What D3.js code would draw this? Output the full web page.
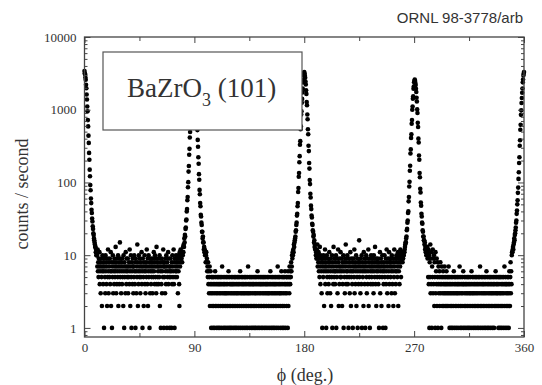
<!DOCTYPE html>
<html><head><meta charset="utf-8">
<script src="https://cdn.jsdelivr.net/npm/d3@7"></script>
<style>body{margin:0;background:#fff}</style>
</head><body><svg id="c" width="542" height="385"></svg>
<script>
// ---- data: counts / second vs phi (deg), 0.25 deg step ----
const phiStep = 0.25;
const peak0Center = 0,     peak0FirstOffset = 0;
const peak90Center = 89.5, peak90FirstOffset = -10;
const peak180Center = 180, peak180FirstOffset = -10;
const peak270Center = 270.5, peak270FirstOffset = -10;
const peak360Center = 360, peak360FirstOffset = -10;

const peak0Counts = [3400,3180,3060,2780,2580,2200,1970,1620,1380,1110,950,720,590,440,350,255,205,150,122,92,
 78,60,52,42,38,32,29,25,23,20,19,17,16,15,14,13,13,11,12,10,10];
const peak90Counts = [9,10,8,11,10,13,11,14,13,17,15,19,18,23,24,30,31,40,43,57,
 63,86,101,141,168,240,290,415,495,670,790,1030,1170,1490,1680,2020,2210,2520,2660,2880,
 3000,
 2820,2730,2440,2290,1940,1740,1420,1230,975,830,630,525,385,310,222,181,130,109,79,69,
 52,47,36,34,28,26,21,21,17,18,15,15,12,13,11,12,10,11,8,10];
const peak180Counts = [10,9,11,10,12,11,14,13,15,16,17,18,21,22,26,28,35,37,47,52,
 74,84,120,135,190,230,330,370,540,590,860,950,1250,1410,1730,1950,2380,2560,2940,3120,
 3300,
 3150,2940,2760,2440,2230,1850,1650,1280,1150,860,740,540,460,320,270,185,155,108,95,70,
 62,48,43,35,33,27,26,22,21,18,19,15,16,13,14,12,12,10,11,9];
const peak270Counts = [8,9,9,10,10,11,11,12,13,14,15,15,17,18,22,23,28,30,38,40,
 55,63,88,102,145,170,250,285,410,460,640,720,1000,1110,1420,1530,1950,2090,2380,2480,
 2600,
 2490,2330,2180,1940,1750,1460,1300,1010,900,660,580,400,355,235,205,135,118,82,73,53,
 48,37,34,28,27,22,21,18,18,16,16,14,15,12,13,11,12,10,11,10];
const peak360Counts = [10,11,11,12,13,12,14,15,17,16,19,20,22,24,28,30,37,41,50,57,
 72,85,112,138,185,222,320,380,530,620,850,980,1240,1450,1710,1960,2380,2610,2950,3120,3300];

const bgAStart = 10.25;
const bgACounts = [
 10,7,12,6,8,5,9,7,11,4,6,8,3,7,9,5,2,6,10,7,
 4,8,6,1,9,7,5,3,10,6,8,4,7,2,9,5,12,6,3,8,
 7,5,9,4,6,11,2,8,6,1,7,5,10,3,8,6,4,9,7,5,
 6,13,8,3,7,4,9,6,5,10,2,7,8,4,6,15,5,9,7,3,
 8,6,4,9,5,7,2,10,6,1,8,5,7,3,11,6,4,9,7,5,
 6,9,3,7,5,8,4,12,6,2,7,10,5,1,8,6,4,9,7,3,
 7,5,10,6,4,8,1,9,6,3,7,5,14,8,2,6,4,10,7,5,
 9,6,3,8,5,7,11,4,6,1,9,7,5,2,8,6,10,4,7,3,
 6,8,5,12,7,4,9,2,6,10,5,7,1,8,3,6,9,4,7,5,
 8,6,3,9,7,5,11,6,8,4,10,7,5,9,3,13,4,8,7,5,
 6,9,4,7,5,10,2,8,6,1,7,4,9,3,6,8,5,12,7,1,
 8,5,7,3,9,6,4,10,7,1,8,5,6,11,4,9,7,5,1,6,
 7,9,5,6,1,8,4,10,7,5,6,12,4,8,1,9,5,7,6,10,
 6,8,5,9,7,3,10,6,8,4,2,11,7,9,12,8,10];
const bgBStart = 99.75;
const bgBCounts = [
 11,8,9,6,7,5,8,4,6,3,5,7,2,4,6,3,1,5,4,2,
 3,5,1,4,2,5,3,1,4,6,2,5,3,4,1,2,5,3,4,1,
 5,2,4,3,1,5,4,2,3,5,1,4,7,2,3,5,4,1,2,3,
 4,5,1,3,2,4,5,3,1,2,4,5,3,6,1,2,5,4,3,1,
 2,4,5,3,1,4,2,5,3,4,1,2,5,3,4,1,5,2,3,4,
 1,5,3,2,4,5,1,3,4,2,5,6,1,3,4,2,5,3,1,4,
 5,2,3,4,1,5,3,2,4,5,1,3,2,4,5,1,3,7,2,4,
 3,5,1,4,2,3,5,4,1,2,5,3,4,1,2,4,5,3,1,2,
 4,5,3,1,2,4,5,3,6,1,4,2,5,3,1,4,2,5,3,4,
 1,2,5,4,3,1,5,2,4,3,5,1,2,4,3,5,1,4,2,3,
 5,4,1,3,2,5,4,3,1,2,6,4,5,3,1,2,4,5,3,1,
 2,4,5,3,1,4,2,5,3,4,1,2,5,3,7,4,1,5,2,3,
 4,5,3,1,2,4,6,3,5,1,2,4,5,3,1,2,5,4,6,3,
 1,4,5,2,3,5,4,1,6,2,5,4,3,7,5,4,6,5,8,6,
 7];
const bgCStart = 190.25;
const bgCCounts = [
 12,9,14,7,10,8,11,6,9,5,13,7,4,10,8,6,3,9,1,7,
 8,5,10,6,2,9,7,12,4,8,6,1,7,10,5,3,9,6,8,4,
 7,11,5,8,3,6,9,2,7,5,10,1,8,6,4,13,7,5,9,6,
 4,8,6,10,1,7,5,9,3,6,12,8,2,7,4,9,6,5,11,7,
 5,9,6,2,8,4,7,10,1,6,8,5,3,9,7,14,4,6,8,5,
 10,6,4,7,1,9,5,8,3,6,11,7,2,5,9,6,4,8,1,7,
 6,9,5,12,3,7,8,4,6,10,2,7,5,9,1,6,8,4,7,16,
 5,8,6,3,9,7,4,10,1,6,8,5,7,2,11,6,9,4,7,1,
 8,6,10,5,3,7,9,4,6,12,2,8,5,7,1,9,6,4,10,7,
 5,8,6,9,4,7,3,10,6,8,5,13,7,4,9,2,6,8,5,7,
 9,6,4,8,1,7,5,11,3,6,9,7,2,8,5,10,6,1,7,4,
 8,6,10,5,7,1,9,4,6,12,8,3,7,5,9,2,6,11,4,8,
 7,9,5,8,6,3,10,7,4,9,6,2,8,5,12,7,3,9,6,4,
 8,10,6,9,5,7,11,2,8,6,10,4,9,7,12,8,5,10,9,11,
 9];
const bgDStart = 280.75;
const bgDCounts = [
 13,9,11,5,12,4,10,1,8,5,14,3,9,4,11,1,7,5,12,3,
 9,4,10,2,8,5,1,11,3,6,4,9,2,5,8,1,4,7,3,5,
 6,2,4,8,3,5,1,4,7,2,5,3,6,4,2,5,3,7,4,2,
 5,3,4,6,2,5,3,4,2,5,7,3,4,1,5,2,3,4,1,5,
 2,3,4,1,5,2,3,6,4,1,5,3,2,4,5,1,3,2,4,5,
 3,1,4,2,5,3,7,4,1,2,5,3,4,1,2,5,3,4,6,1,
 4,2,5,3,1,4,2,5,3,4,1,2,5,3,4,1,5,2,3,4,
 1,5,3,2,4,6,1,3,5,2,4,3,1,5,2,4,3,1,5,2,
 4,3,5,1,2,4,3,5,1,2,4,5,3,7,1,2,4,5,3,2,
 1,4,5,3,2,4,1,5,3,2,4,1,5,3,6,2,4,1,5,3,
 2,4,1,5,3,2,4,5,1,3,2,4,5,3,1,2,4,5,3,1,
 4,2,5,3,6,2,4,5,3,2,4,3,5,1,2,4,5,3,1,2,
 5,3,4,1,2,5,3,4,2,1,5,3,4,7,2,1,5,4,3,2,
 4,1,5,3,2,4,5,1,3,6,4,2,5,8,3,6,4];

const xMajorTicks = [0, 90, 180, 270, 360];
const xMinorTicks = [45, 135, 225, 315];
const yMajorTicks = [1, 10, 100, 1000, 10000];
const yMinorTicks = [0.8,0.9,2,3,4,5,6,7,8,9,20,30,40,50,60,70,80,90,200,300,400,500,600,700,800,900,2000,3000,4000,5000,6000,7000,8000,9000];
const labelText = {main: "BaZrO", sub: "3", rest: " (101)"};
const figureId = "ORNL 98-3778/arb";

// ---- assemble points ----
const segments = [
  {start: peak0Center + peak0FirstOffset, counts: peak0Counts},
  {start: bgAStart, counts: bgACounts},
  {start: peak90Center + peak90FirstOffset, counts: peak90Counts},
  {start: bgBStart, counts: bgBCounts},
  {start: peak180Center + peak180FirstOffset, counts: peak180Counts},
  {start: bgCStart, counts: bgCCounts},
  {start: peak270Center + peak270FirstOffset, counts: peak270Counts},
  {start: bgDStart, counts: bgDCounts},
  {start: peak360Center + peak360FirstOffset, counts: peak360Counts}
];
const points = [];
segments.forEach(s => s.counts.forEach((c, i) => points.push({phi: s.start + i * phiStep, c})));

// ---- drawing ----
const svg = d3.select('#c');
const L = 84.5, R = 524, T = 37, B = 337;
const x = d3.scaleLinear().domain([0, 360]).range([L, R]);
const y = d3.scaleLog().domain([0.75, 10000]).range([B, T]);
const serif = "'Liberation Serif','Times New Roman',serif";
const ink = "#333";

svg.append('g').selectAll('circle').data(points).join('circle')
  .attr('cx', d => x(d.phi)).attr('cy', d => y(d.c)).attr('r', 2.3).attr('fill', '#000');

function styleAxis(g, withText) {
  g.select('.domain').remove();
  g.selectAll('line').attr('stroke', '#444').attr('stroke-width', 1);
  g.selectAll('text').attr('font-family', serif).attr('font-size', 13).attr('fill', ink);
  if (!withText) g.selectAll('text').remove();
}
svg.append('g').attr('transform', `translate(0,${B})`)
  .call(d3.axisBottom(x).tickValues(xMajorTicks).tickSize(-6).tickPadding(6).tickFormat(d3.format('d')))
  .call(g => styleAxis(g, true));
svg.append('g').attr('transform', `translate(0,${B})`)
  .call(d3.axisBottom(x).tickValues(xMinorTicks).tickSize(-4)).call(g => styleAxis(g, false));
svg.append('g').attr('transform', `translate(0,${T})`)
  .call(d3.axisTop(x).tickValues(xMajorTicks).tickSize(-6)).call(g => styleAxis(g, false));
svg.append('g').attr('transform', `translate(0,${T})`)
  .call(d3.axisTop(x).tickValues(xMinorTicks).tickSize(-4)).call(g => styleAxis(g, false));
svg.append('g').attr('transform', `translate(${L},0)`)
  .call(d3.axisLeft(y).tickValues(yMajorTicks).tickSize(-6).tickPadding(8).tickFormat(d3.format('d')))
  .call(g => styleAxis(g, true));
svg.append('g').attr('transform', `translate(${L},0)`)
  .call(d3.axisLeft(y).tickValues(yMinorTicks).tickSize(-3)).call(g => styleAxis(g, false));
svg.append('g').attr('transform', `translate(${R},0)`)
  .call(d3.axisRight(y).tickValues(yMajorTicks).tickSize(-6)).call(g => styleAxis(g, false));
svg.append('g').attr('transform', `translate(${R},0)`)
  .call(d3.axisRight(y).tickValues(yMinorTicks).tickSize(-3)).call(g => styleAxis(g, false));

svg.append('rect').attr('x', L).attr('y', T).attr('width', R - L).attr('height', B - T)
  .attr('fill', 'none').attr('stroke', '#444').attr('stroke-width', 1.3);

svg.append('rect').attr('x', 103).attr('y', 52).attr('width', 199).attr('height', 78)
  .attr('fill', '#fff').attr('stroke', '#555').attr('stroke-width', 1.2);
const lt = svg.append('text').attr('x', 127).attr('y', 97)
  .attr('font-family', serif).attr('font-size', 27).attr('fill', ink);
lt.append('tspan').text(labelText.main);
lt.append('tspan').attr('font-size', 18).attr('dy', 9).text(labelText.sub);
lt.append('tspan').attr('dy', -9).text(labelText.rest);

svg.append('text').attr('transform', 'translate(28,194) rotate(-90)').attr('text-anchor', 'middle')
  .attr('font-family', serif).attr('font-size', 18).attr('fill', ink).text('counts / second');
svg.append('text').attr('x', 305).attr('y', 381).attr('text-anchor', 'middle')
  .attr('font-family', serif).attr('font-size', 18).attr('fill', ink).text('ϕ (deg.)');

svg.append('text').attr('x', 523).attr('y', 23).attr('text-anchor', 'end')
  .attr('font-family', "'Liberation Sans',Arial,sans-serif").attr('font-size', 15).attr('fill', ink)
  .text(figureId);
</script></body></html>
